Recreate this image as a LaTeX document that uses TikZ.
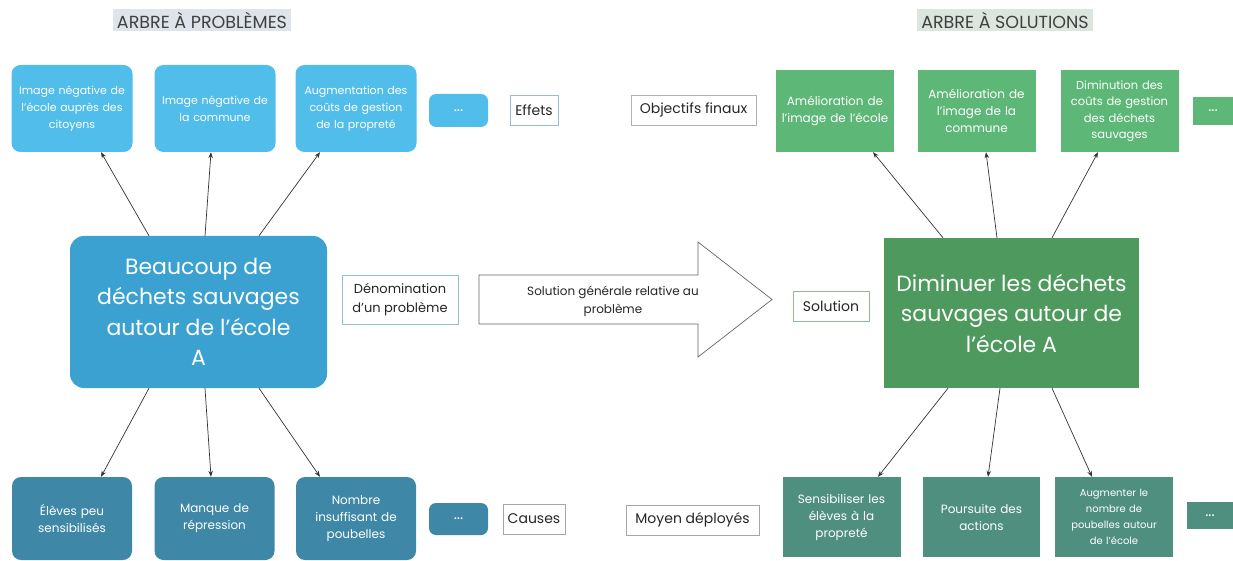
\documentclass[tikz,border=0pt]{standalone}
\usepackage{fontspec}
\setmainfont{Poppins}
\usetikzlibrary{arrows.meta}
\definecolor{effetbleu}{RGB}{81,189,234}
\definecolor{problemebleu}{RGB}{59,161,209}
\definecolor{causebleu}{RGB}{63,135,166}
\definecolor{objectifvert}{RGB}{93,183,118}
\definecolor{solutionvert}{RGB}{78,154,94}
\definecolor{moyenvert}{RGB}{79,143,128}
\definecolor{titrefond}{RGB}{222,228,233}
\definecolor{titrefondvert}{RGB}{220,229,222}
\definecolor{bordbleu}{RGB}{150,190,205}
\definecolor{bordvert}{RGB}{140,185,150}

\begin{document}
\begin{tikzpicture}
	[x=1pt,y=-1pt,
	titre/.style={font=\fontsize{17.5}{20}\selectfont,text=black!75,
		inner xsep=4pt,inner ysep=2.5pt},
	box/.style={text=white,align=center,inner sep=1pt,
		font=\fontsize{12}{17}\selectfont},
	effet/.style={box,fill=effetbleu,rounded corners=9pt,
		font=\fontsize{11}{17}\selectfont,
		minimum width=121pt,minimum height=87pt,text width=118pt},
	cause/.style={box,fill=causebleu,rounded corners=9pt,
		minimum width=120pt,minimum height=83pt,text width=117pt},
	objectif/.style={box,fill=objectifvert,
		minimum width=118pt,minimum height=82pt,text width=115pt},
	moyen/.style={box,fill=moyenvert,
		minimum width=118pt,minimum height=80pt,text width=115pt},
	points/.style={box,font=\fontsize{15}{15}\selectfont},
	centre/.style={text=white,align=center,inner sep=2pt,
		font=\fontsize{22}{30.5}\selectfont},
	etiquette/.style={draw=bordbleu,fill=white,align=center,inner sep=2pt,
		font=\fontsize{14}{18}\selectfont,text=black!85,minimum height=30pt},
	fleche/.style={-{Stealth[length=6pt,width=4.5pt]},line width=0.7pt,black!80}]
	\useasboundingbox (0,0) rectangle (1233,561);

	% titres
	\node[titre,fill=titrefond] (titreP) at (202,20) {ARBRE À PROBLÈMES};
	\node[titre,fill=titrefondvert] (titreS) at (1005,20) {ARBRE À SOLUTIONS};

	% arbre a problemes
	\node[effet] (e1) at (72,108.5) {Image négative de\\l’école auprès des\\citoyens};
	\node[effet] (e2) at (215,108.5) {Image négative de\\la commune};
	\node[effet] (e3) at (356,108.5) {Augmentation des\\coûts de gestion\\de la propreté};
	\node[points,fill=effetbleu,rounded corners=7pt,minimum width=59pt,
		minimum height=33pt] (eDots) at (458.5,110.5) {...};
	\node[etiquette,minimum width=48pt] (effets) at (534,110) {Effets};

	\node[centre,fill=problemebleu,rounded corners=14pt,
		minimum width=257pt,minimum height=152pt] (probleme) at (198.5,312)
		{Beaucoup de\\déchets sauvages\\autour de l’école\\A};
	\node[etiquette,font=\fontsize{13}{19}\selectfont,minimum width=116pt,
		minimum height=49pt] (denom) at (400,299.5) {Dénomination\\d’un problème};

	\node[cause] (c1) at (72,518.5) {Élèves peu\\sensibilisés};
	\node[cause] (c2) at (214.5,518.5) {Manque de\\répression};
	\node[cause] (c3) at (356,518.5) {Nombre\\insuffisant de\\poubelles};
	\node[points,fill=causebleu,rounded corners=7pt,minimum width=59pt,
		minimum height=32pt] (cDots) at (458.5,519) {...};
	\node[etiquette,draw=black!35,minimum width=62pt] (causes) at (534,519) {Causes};

	% fleche centrale
	\draw[black!60,line width=0.7pt,fill=white] (479,275) -- (698,275) -- (698,242)
		-- (772,299.5) -- (698,357) -- (698,324) -- (479,324) -- cycle;
	\node[align=center,font=\fontsize{12}{18}\selectfont,text=black!85] (general)
		at (613,301) {Solution générale relative au\\problème};

	% arbre a solutions
	\node[etiquette,draw=bordvert,minimum width=76pt] (solution) at (831,306) {Solution};
	\node[centre,fill=solutionvert,minimum width=255pt,minimum height=150pt]
		(diminuer) at (1011.5,313) {Diminuer les déchets\\sauvages autour de\\l’école A};

	\node[etiquette,draw=black!30,minimum width=125pt] (finaux)
		at (693.5,110) {Objectifs finaux};
	\node[objectif] (o1) at (835,111) {Amélioration de\\l’image de l’école};
	\node[objectif] (o2) at (976.5,111) {Amélioration de\\l’image de la\\commune};
	\node[objectif,font=\fontsize{11.5}{16.5}\selectfont] (o3) at (1119.5,111)
		{Diminution des\\coûts de gestion\\des déchets\\sauvages};
	\node[points,fill=objectifvert,minimum width=40pt,minimum height=28pt]
		(oDots) at (1213,111) {...};

	\node[etiquette,draw=black!35,minimum width=133pt] (deployes)
		at (692.5,520) {Moyen déployés};
	\node[moyen] (m1) at (841.5,517) {Sensibiliser les\\élèves à la\\propreté};
	\node[moyen,minimum width=117pt] (m2) at (981.5,517) {Poursuite des\\actions};
	\node[moyen,font=\fontsize{10}{16}\selectfont] (m3) at (1114,517)
		{Augmenter le\\nombre de\\poubelles autour\\de l’école};
	\node[points,fill=moyenvert,minimum width=46pt,minimum height=27pt]
		(mDots) at (1210,515.5) {...};

	% liens
	\draw[fleche] ([xshift=-49.5pt]probleme.north) -- ([xshift=29pt]e1.south);
	\draw[fleche] ([xshift=6.5pt]probleme.north) -- ([xshift=-4pt]e2.south);
	\draw[fleche] ([xshift=60.5pt]probleme.north) -- ([xshift=-36pt]e3.south);
	\draw[fleche] ([xshift=-49.5pt]probleme.south) -- ([xshift=29pt]c1.north);
	\draw[fleche] ([xshift=6.5pt]probleme.south) -- ([xshift=-3.5pt]c2.north);
	\draw[fleche] ([xshift=60.5pt]probleme.south) -- ([xshift=-36pt]c3.north);

	\draw[fleche] ([xshift=-68.5pt]diminuer.north) -- ([xshift=38pt]o1.south);
	\draw[fleche] ([xshift=-14.5pt]diminuer.north) -- ([xshift=9.5pt]o2.south);
	\draw[fleche] ([xshift=40.5pt]diminuer.north) -- ([xshift=-21.5pt]o3.south);
	\draw[fleche] ([xshift=-63.5pt]diminuer.south) -- ([xshift=36.5pt]m1.north);
	\draw[fleche] ([xshift=-11.5pt]diminuer.south) -- ([xshift=6.5pt]m2.north);
	\draw[fleche] ([xshift=40.5pt]diminuer.south) -- ([xshift=-22pt]m3.north);
\end{tikzpicture}
\end{document}
